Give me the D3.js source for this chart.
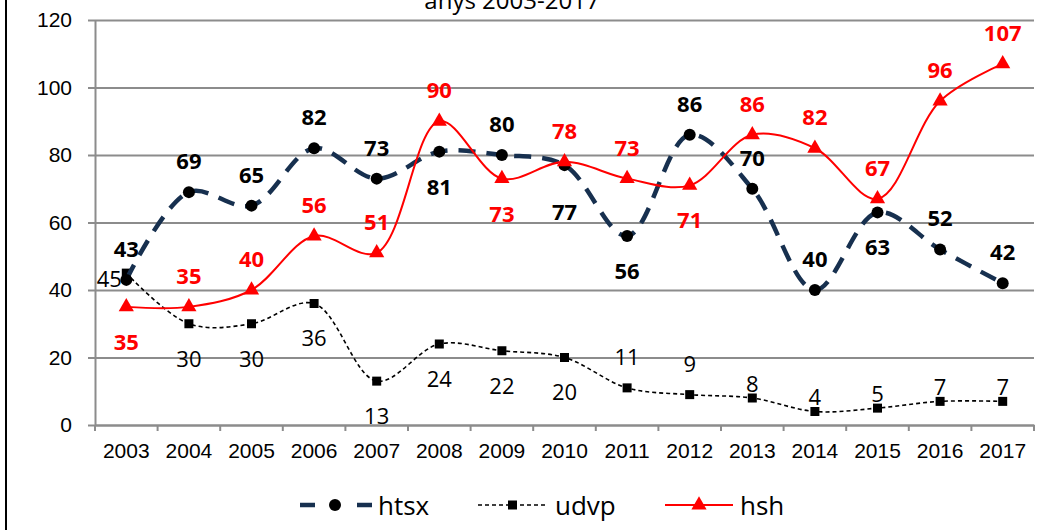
<!DOCTYPE html>
<html>
<head>
<meta charset="utf-8">
<script src="https://cdn.jsdelivr.net/npm/d3@7"></script>
<style>
  body { margin: 0; background: #fff; }
  svg { display: block; }
</style>
</head>
<body>
<div id="chart"></div>
<script>
// data
var years = ["2003", "2004", "2005", "2006", "2007", "2008", "2009", "2010",
             "2011", "2012", "2013", "2014", "2015", "2016", "2017"];
var htsx = [43, 69, 65, 82, 73, 81, 80, 77, 56, 86, 70, 40, 63, 52, 42];
var udvp = [45, 30, 30, 36, 13, 24, 22, 20, 11, 9, 8, 4, 5, 7, 7];
var hsh = [35, 35, 40, 56, 51, 90, 73, 78, 73, 71, 86, 82, 67, 96, 107];
var yTicks = [0, 20, 40, 60, 80, 100, 120];

// where each data label sits: a = above, b = below, B = further below, l = left, s = just above
var htsxPlace = ["a","a","a","a","a","b","a","B","b","a","a","a","b","a","a"];
var udvpPlace = ["l","b","b","b","b","b","b","b","a","a","s","s","s","s","s"];
var hshPlace = ["b","a","a","a","a","a","b","a","a","b","a","a","a","a","a"];

var svgWidth = 1056, svgHeight = 530;
var margin = { top: 20, right: 22, bottom: 105, left: 95 };
var width = svgWidth - margin.left - margin.right;
var height = svgHeight - margin.top - margin.bottom;

var svg = d3.select("#chart").append("svg")
  .attr("width", svgWidth)
  .attr("height", svgHeight);

// outer frame edge (chart is cropped)
svg.append("line")
  .attr("x1", 6).attr("x2", 6).attr("y1", 0).attr("y2", svgHeight)
  .attr("stroke", "#000").attr("stroke-width", 2);

// title, cut at the top like the reference
svg.append("text")
  .attr("x", 512).attr("y", 9)
  .attr("text-anchor", "middle")
  .style("font-family", "Open Sans, sans-serif")
  .style("font-size", "24px")
  .text("anys 2003-2017");

var g = svg.append("g")
  .attr("transform", `translate(${margin.left}, ${margin.top})`);

var x = d3.scaleBand().domain(years).range([0, width]);
var y = d3.scaleLinear().domain([0, 120]).range([height, 0]);
var cx = d => x(d) + x.bandwidth() / 2;

// gridlines
g.append("g")
  .call(d3.axisLeft(y).tickValues(yTicks).tickSize(-width).tickFormat(""))
  .call(a => a.select(".domain").remove())
  .selectAll("line").attr("stroke", "#8c8c8c").attr("stroke-width", 2);

// y axis
var yAxis = g.append("g")
  .call(d3.axisLeft(y).tickValues(yTicks).tickSize(7).tickPadding(16).tickSizeOuter(0));
yAxis.select(".domain").attr("stroke", "#8c8c8c").attr("stroke-width", 2);
yAxis.selectAll(".tick line").attr("stroke", "#8c8c8c").attr("stroke-width", 2);
yAxis.selectAll("text")
  .style("font-family", "Liberation Sans, Arial, sans-serif")
  .style("font-size", "21px").attr("fill", "#000");

// x axis
var xAxis = g.append("g")
  .attr("transform", `translate(0, ${height})`)
  .call(d3.axisBottom(x).tickSize(0).tickPadding(18).tickSizeOuter(0));
xAxis.select(".domain").attr("stroke", "#8c8c8c").attr("stroke-width", 2);
xAxis.selectAll("text")
  .style("font-family", "Liberation Sans, Arial, sans-serif")
  .style("font-size", "21px").attr("fill", "#000");
// category boundary ticks
xAxis.selectAll(".bound")
  .data(years.map(d => x(d)).concat([width]))
  .enter().append("line")
  .attr("x1", d => d).attr("x2", d => d)
  .attr("y1", 0).attr("y2", 6)
  .attr("stroke", "#8c8c8c").attr("stroke-width", 2);

var lineGen = d3.line()
  .x((d, i) => cx(years[i]))
  .y(d => y(d))
  .curve(d3.curveCatmullRom.alpha(0.5));

// udvp
g.append("path").datum(udvp)
  .attr("d", lineGen)
  .attr("fill", "none").attr("stroke", "#000")
  .attr("stroke-width", 1.6).attr("stroke-dasharray", "4,3");
g.selectAll(".udvpPt").data(udvp).enter().append("rect")
  .attr("x", (d, i) => cx(years[i]) - 4.5)
  .attr("y", d => y(d) - 4.5)
  .attr("width", 9).attr("height", 9).attr("fill", "#000");

// htsx
g.append("path").datum(htsx)
  .attr("d", lineGen)
  .attr("fill", "none").attr("stroke", "#17304f")
  .attr("stroke-width", 4.5).attr("stroke-dasharray", "17,11");
g.selectAll(".htsxPt").data(htsx).enter().append("circle")
  .attr("cx", (d, i) => cx(years[i]))
  .attr("cy", d => y(d))
  .attr("r", 6).attr("fill", "#000");

// hsh
g.append("path").datum(hsh)
  .attr("d", lineGen)
  .attr("fill", "none").attr("stroke", "#ff0000").attr("stroke-width", 2);
var tri = d3.symbol().type(d3.symbolTriangle).size(100);
g.selectAll(".hshPt").data(hsh).enter().append("path")
  .attr("d", tri)
  .attr("transform", (d, i) => `translate(${cx(years[i])}, ${y(d)})`)
  .attr("fill", "#ff0000");

// data labels
var offsets = { a: [0, -31], b: [0, 35], B: [0, 47], l: [-17, 6], s: [0, -14] };
function labels(vals, place, color, weight) {
  g.append("g").selectAll("text").data(vals).enter().append("text")
    .attr("x", (d, i) => cx(years[i]) + offsets[place[i]][0])
    .attr("y", (d, i) => y(d) + offsets[place[i]][1])
    .attr("dy", "0.36em")
    .attr("text-anchor", "middle")
    .attr("fill", color)
    .style("font-family", "Open Sans, sans-serif")
    .style("font-weight", weight)
    .style("font-size", "22px")
    .text(d => d);
}
labels(udvp, udvpPlace, "#000", "normal");
labels(htsx, htsxPlace, "#000", "bold");
labels(hsh, hshPlace, "#ff0000", "bold");

// legend
var leg = svg.append("g").attr("transform", "translate(0, 505)");
var legFont = s => s.style("font-family", "Open Sans, sans-serif").style("font-size", "26px");

leg.append("line").attr("x1", 300).attr("x2", 372).attr("y1", 0).attr("y2", 0)
  .attr("stroke", "#17304f").attr("stroke-width", 4.5).attr("stroke-dasharray", "15,42");
leg.append("circle").attr("cx", 335).attr("cy", 0).attr("r", 6).attr("fill", "#000");
leg.append("text").attr("x", 378).attr("y", 10).text("htsx").call(legFont);

leg.append("line").attr("x1", 478).attr("x2", 547).attr("y1", 0).attr("y2", 0)
  .attr("stroke", "#000").attr("stroke-width", 1.6).attr("stroke-dasharray", "4,3");
leg.append("rect").attr("x", 508).attr("y", -4.5).attr("width", 9).attr("height", 9).attr("fill", "#000");
leg.append("text").attr("x", 555).attr("y", 10).text("udvp").call(legFont);

leg.append("line").attr("x1", 665).attr("x2", 733).attr("y1", 0).attr("y2", 0)
  .attr("stroke", "#ff0000").attr("stroke-width", 2);
leg.append("path").attr("d", tri).attr("transform", "translate(699, 0)").attr("fill", "#ff0000");
leg.append("text").attr("x", 740).attr("y", 10).text("hsh").call(legFont);
</script>
</body>
</html>
